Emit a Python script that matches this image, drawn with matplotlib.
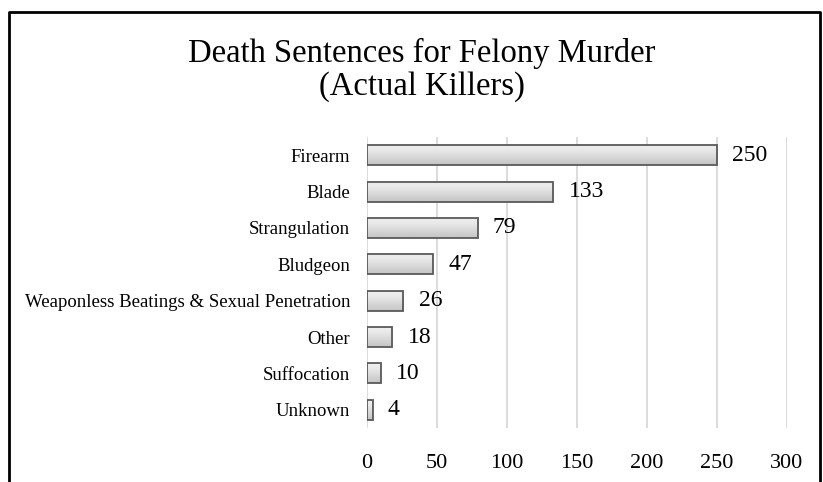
import matplotlib
matplotlib.use("Agg")
import matplotlib.pyplot as plt
import numpy as np
from matplotlib.lines import Line2D

categories = ["Firearm", "Blade", "Strangulation", "Bludgeon",
              "Weaponless Beatings & Sexual Penetration", "Other",
              "Suffocation", "Unknown"]
values = [250, 133, 79, 47, 26, 18, 10, 4]
xticks = [0, 50, 100, 150, 200, 250, 300]
title_lines = ["Death Sentences for Felony Murder", "(Actual Killers)"]

plt.rcParams['font.family'] = ['Liberation Serif', 'DejaVu Serif']

W, H = 823, 482
fig = plt.figure(figsize=(W/100, H/100), dpi=100)
ax = fig.add_axes([367/W, 1-428/H, (787-367)/W, (428-137)/H])

ax.set_xticks(xticks)
ax.set_xticklabels([str(t) for t in xticks], fontsize=16)
ax.set_yticks(range(len(categories)))
ax.set_yticklabels(categories, fontsize=13.5)
ax.tick_params(axis='both', length=0)
ax.tick_params(axis='x', pad=19)
ax.tick_params(axis='y', pad=12)
for s in ax.spines.values():
    s.set_visible(False)
ax.grid(axis='x', color='#d9d9d9', linewidth=1.3)
ax.set_axisbelow(True)

# gradient
grad = np.array([0.93, 0.92, 0.90, 0.87, 0.84, 0.81, 0.78]).reshape(-1, 1)
bh = 0.55
bars = ax.barh(range(len(categories)), values, height=bh, color='none',
               edgecolor='#595959', linewidth=1.3, zorder=3)
for i, (b, v) in enumerate(zip(bars, values)):
    im = ax.imshow(grad, cmap='gray', vmin=0, vmax=1, aspect='auto',
                   extent=[0, v, i + bh/2, i - bh/2], zorder=2,
                   interpolation='bilinear')
    im.set_clip_path(b)
    ax.text(v + 11, i, str(v), va='center', ha='left', fontsize=17, zorder=4)
ax.set_xlim(0, 300)
ax.set_ylim(len(categories)-0.5, -0.5)

fig.text(421.5/W, 1-62/H, title_lines[0], ha='center', va='baseline', fontsize=23.5)
fig.text(421.5/W, 1-95/H, title_lines[1], ha='center', va='baseline', fontsize=23.5)

# frame
fig.add_artist(Line2D([9/W, 9/W, 820/W, 820/W], [0, 1-12/H, 1-12/H, 0],
                      color='black', linewidth=2, transform=fig.transFigure))

fig.savefig("out.png", dpi=100)
